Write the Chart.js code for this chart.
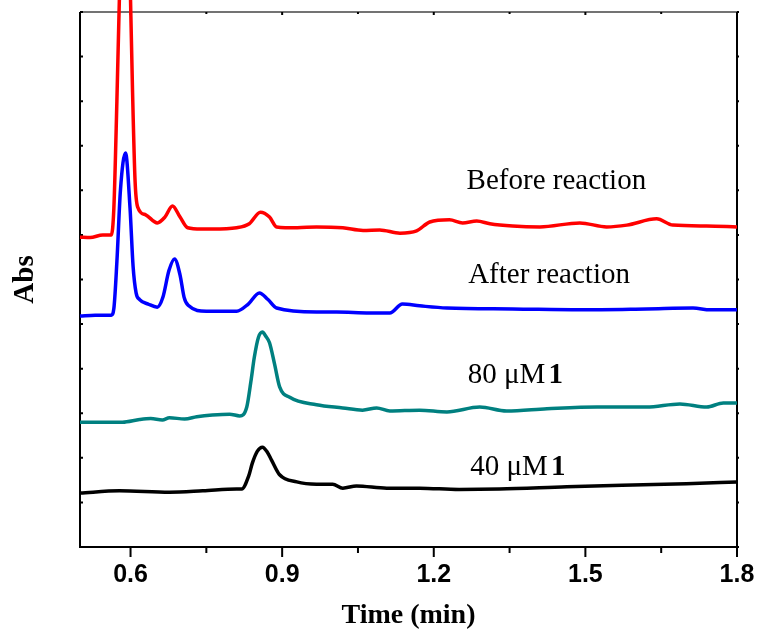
<!DOCTYPE html>
<html>
<head>
<meta charset="utf-8">
<script src="https://cdn.jsdelivr.net/npm/chart.js@4.4.0/dist/chart.umd.min.js"></script>
<style>
  html, body { margin: 0; padding: 0; background: #fff; }
  #chromatogram { display: block; }
</style>
</head>
<body>
<canvas id="chromatogram" width="758" height="633"></canvas>
<script>
// Traces (time in min, absorbance in stacked arbitrary units)
const beforeTime = [0.500, 0.520, 0.545, 0.562, 0.567, 0.573, 0.579, 0.589, 0.599, 0.604, 0.609, 0.614, 0.630, 0.653, 0.668, 0.683, 0.698, 0.713, 0.740, 0.762, 0.810, 0.835, 0.857, 0.875, 0.889, 0.930, 0.968, 1.020, 1.060, 1.093, 1.133, 1.166, 1.192, 1.231, 1.257, 1.285, 1.311, 1.356, 1.410, 1.489, 1.542, 1.582, 1.641, 1.673, 1.740, 1.800];
const beforeAbs = [6.95, 6.94, 7.00, 7.00, 7.60, 10.0, 12.8, 18.0, 12.8, 10.2, 8.20, 7.63, 7.45, 7.27, 7.40, 7.65, 7.40, 7.16, 7.13, 7.13, 7.16, 7.25, 7.51, 7.40, 7.18, 7.16, 7.18, 7.16, 7.10, 7.11, 7.04, 7.09, 7.29, 7.34, 7.27, 7.31, 7.25, 7.20, 7.18, 7.27, 7.18, 7.22, 7.36, 7.22, 7.20, 7.18];

const afterTime = [0.500, 0.530, 0.562, 0.567, 0.573, 0.580, 0.590, 0.599, 0.605, 0.611, 0.618, 0.635, 0.653, 0.664, 0.676, 0.687, 0.698, 0.706, 0.714, 0.750, 0.810, 0.833, 0.855, 0.872, 0.889, 0.968, 1.008, 1.073, 1.113, 1.138, 1.172, 1.226, 1.356, 1.489, 1.621, 1.713, 1.747, 1.800];
const afterAbs = [5.18, 5.20, 5.20, 5.35, 6.40, 8.00, 8.84, 7.60, 6.30, 5.70, 5.55, 5.45, 5.38, 5.60, 6.20, 6.46, 6.10, 5.60, 5.42, 5.29, 5.29, 5.45, 5.70, 5.55, 5.36, 5.27, 5.27, 5.25, 5.25, 5.45, 5.41, 5.36, 5.34, 5.32, 5.34, 5.36, 5.32, 5.32];

const conc80Time = [0.500, 0.584, 0.618, 0.640, 0.663, 0.677, 0.707, 0.731, 0.762, 0.796, 0.816, 0.830, 0.838, 0.845, 0.853, 0.861, 0.868, 0.875, 0.885, 0.895, 0.915, 0.968, 1.020, 1.059, 1.087, 1.113, 1.172, 1.226, 1.291, 1.344, 1.424, 1.523, 1.621, 1.687, 1.740, 1.773, 1.800];
const conc80Abs = [2.80, 2.80, 2.86, 2.88, 2.85, 2.90, 2.87, 2.92, 2.96, 2.98, 2.94, 3.14, 3.70, 4.26, 4.70, 4.82, 4.72, 4.58, 4.10, 3.59, 3.36, 3.19, 3.12, 3.07, 3.12, 3.05, 3.07, 3.03, 3.14, 3.05, 3.10, 3.14, 3.14, 3.21, 3.14, 3.23, 3.23];

const conc40Time = [0.500, 0.578, 0.677, 0.743, 0.810, 0.820, 0.834, 0.841, 0.851, 0.861, 0.871, 0.879, 0.895, 0.929, 0.968, 1.000, 1.020, 1.047, 1.107, 1.172, 1.250, 1.330, 1.463, 1.594, 1.700, 1.800];
const conc40Abs = [1.21, 1.26, 1.23, 1.26, 1.30, 1.30, 1.60, 1.88, 2.15, 2.24, 2.12, 1.95, 1.62, 1.46, 1.41, 1.41, 1.32, 1.37, 1.32, 1.32, 1.29, 1.30, 1.35, 1.39, 1.42, 1.46];

const xMajorTicks = [0.6, 0.9, 1.2, 1.5, 1.8];
const xMinorTicks = [0.75, 1.05, 1.35, 1.65];
const yTicks = [0, 1, 2, 3, 4, 5, 6, 7, 8, 9, 10, 11, 12];

// Curve labels: [normal text, bold suffix, anchor time, anchor abs]
const curveLabels = [
  ['Before reaction', '', 1.265, 8.03],
  ['After reaction', '', 1.268, 5.92],
  ['80 \u03bcM ', '1', 1.267, 3.68],
  ['40 \u03bcM ', '1', 1.272, 1.62]
];

const toPoints = (xs, ys) => xs.map((x, i) => ({ x: x, y: ys[i] }));

const framePlugin = {
  id: 'frame',
  beforeDatasetsDraw(chart) {
    const { ctx, chartArea: a, scales: { x, y } } = chart;
    ctx.save();
    ctx.strokeStyle = '#000';
    ctx.lineWidth = 2;
    ctx.beginPath();
    ctx.moveTo(a.left, a.top);
    ctx.lineTo(a.left, a.bottom);
    ctx.lineTo(a.right, a.bottom);
    ctx.lineTo(a.right, a.top);
    ctx.stroke();
    ctx.strokeStyle = '#444';
    ctx.lineWidth = 1.5;
    ctx.beginPath();
    ctx.moveTo(a.left, a.top);
    ctx.lineTo(a.right, a.top);
    ctx.stroke();

    // bottom ticks (outward), top ticks (tiny, inward)
    ctx.strokeStyle = '#000';
    ctx.lineWidth = 2;
    ctx.beginPath();
    xMajorTicks.forEach(v => {
      const px = x.getPixelForValue(v);
      ctx.moveTo(px, a.bottom);
      ctx.lineTo(px, a.bottom + 10);
      ctx.moveTo(px, a.top);
      ctx.lineTo(px, a.top + 3);
    });
    xMinorTicks.forEach(v => {
      const px = x.getPixelForValue(v);
      ctx.moveTo(px, a.bottom);
      ctx.lineTo(px, a.bottom + 6);
      ctx.moveTo(px, a.top);
      ctx.lineTo(px, a.top + 2);
    });
    // left ticks inward, right ticks small outward
    yTicks.forEach(v => {
      const py = y.getPixelForValue(v);
      ctx.moveTo(a.left, py);
      ctx.lineTo(a.left + 3, py);
      ctx.moveTo(a.right, py);
      ctx.lineTo(a.right + 2, py);
    });
    ctx.stroke();
    ctx.restore();
  },
  afterDatasetsDraw(chart) {
    const { ctx, scales: { x, y } } = chart;
    ctx.save();
    ctx.fillStyle = '#000';
    ctx.textBaseline = 'alphabetic';
    ctx.textAlign = 'left';
    curveLabels.forEach(([text, bold, t, v]) => {
      const px = x.getPixelForValue(t);
      const py = y.getPixelForValue(v);
      ctx.font = '29px "Liberation Serif", "Times New Roman", serif';
      ctx.fillText(text, px, py);
      if (bold) {
        const w = ctx.measureText(text).width;
        ctx.font = 'bold 29px "Liberation Serif", "Times New Roman", serif';
        ctx.fillText(bold, px + w - 4, py);
      }
    });
    ctx.restore();
  }
};

const makeSet = (label, xs, ys, color) => ({
  label: label,
  data: toPoints(xs, ys),
  borderColor: color,
  backgroundColor: color,
  borderWidth: 3.5,
  pointRadius: 0,
  cubicInterpolationMode: 'monotone',
  clip: false
});

new Chart(document.getElementById('chromatogram'), {
  type: 'line',
  data: {
    datasets: [
      makeSet('Before reaction', beforeTime, beforeAbs, '#ff0000'),
      makeSet('After reaction', afterTime, afterAbs, '#0000ff'),
      makeSet('80 \u03bcM 1', conc80Time, conc80Abs, '#008080'),
      makeSet('40 \u03bcM 1', conc40Time, conc40Abs, '#000000')
    ]
  },
  options: {
    responsive: false,
    animation: false,
    devicePixelRatio: 1,
    layout: { padding: { top: 12, right: 21, left: 0, bottom: 0 } },
    plugins: {
      legend: { display: false },
      tooltip: { enabled: false }
    },
    scales: {
      x: {
        type: 'linear',
        min: 0.5,
        max: 1.8,
        afterBuildTicks: (scale) => {
          scale.ticks = xMajorTicks.map(v => ({ value: v }));
        },
        afterFit: (scale) => {
          scale.height = 86;
          scale.paddingLeft = 0;
          scale.paddingRight = 0;
        },
        grid: { display: false, drawTicks: false },
        border: { display: false },
        ticks: {
          color: '#000',
          padding: 13,
          maxRotation: 0,
          font: { family: '"Liberation Sans", Arial, sans-serif', size: 25, weight: 'bold' },
          callback: (v) => v.toFixed(1)
        },
        title: {
          display: true,
          text: 'Time (min)',
          color: '#000',
          padding: { top: 0, bottom: 0 },
          font: { family: '"Liberation Serif", "Times New Roman", serif', size: 28, weight: 'bold' }
        }
      },
      y: {
        min: 0,
        max: 12,
        afterFit: (scale) => { scale.width = 80; },
        grid: { display: false, drawTicks: false },
        border: { display: false },
        ticks: { display: false },
        title: {
          display: true,
          text: 'Abs',
          color: '#000',
          padding: { top: 8, bottom: 0 },
          font: { family: '"Liberation Serif", "Times New Roman", serif', size: 29, weight: 'bold' }
        }
      }
    }
  },
  plugins: [framePlugin]
});
</script>
</body>
</html>
